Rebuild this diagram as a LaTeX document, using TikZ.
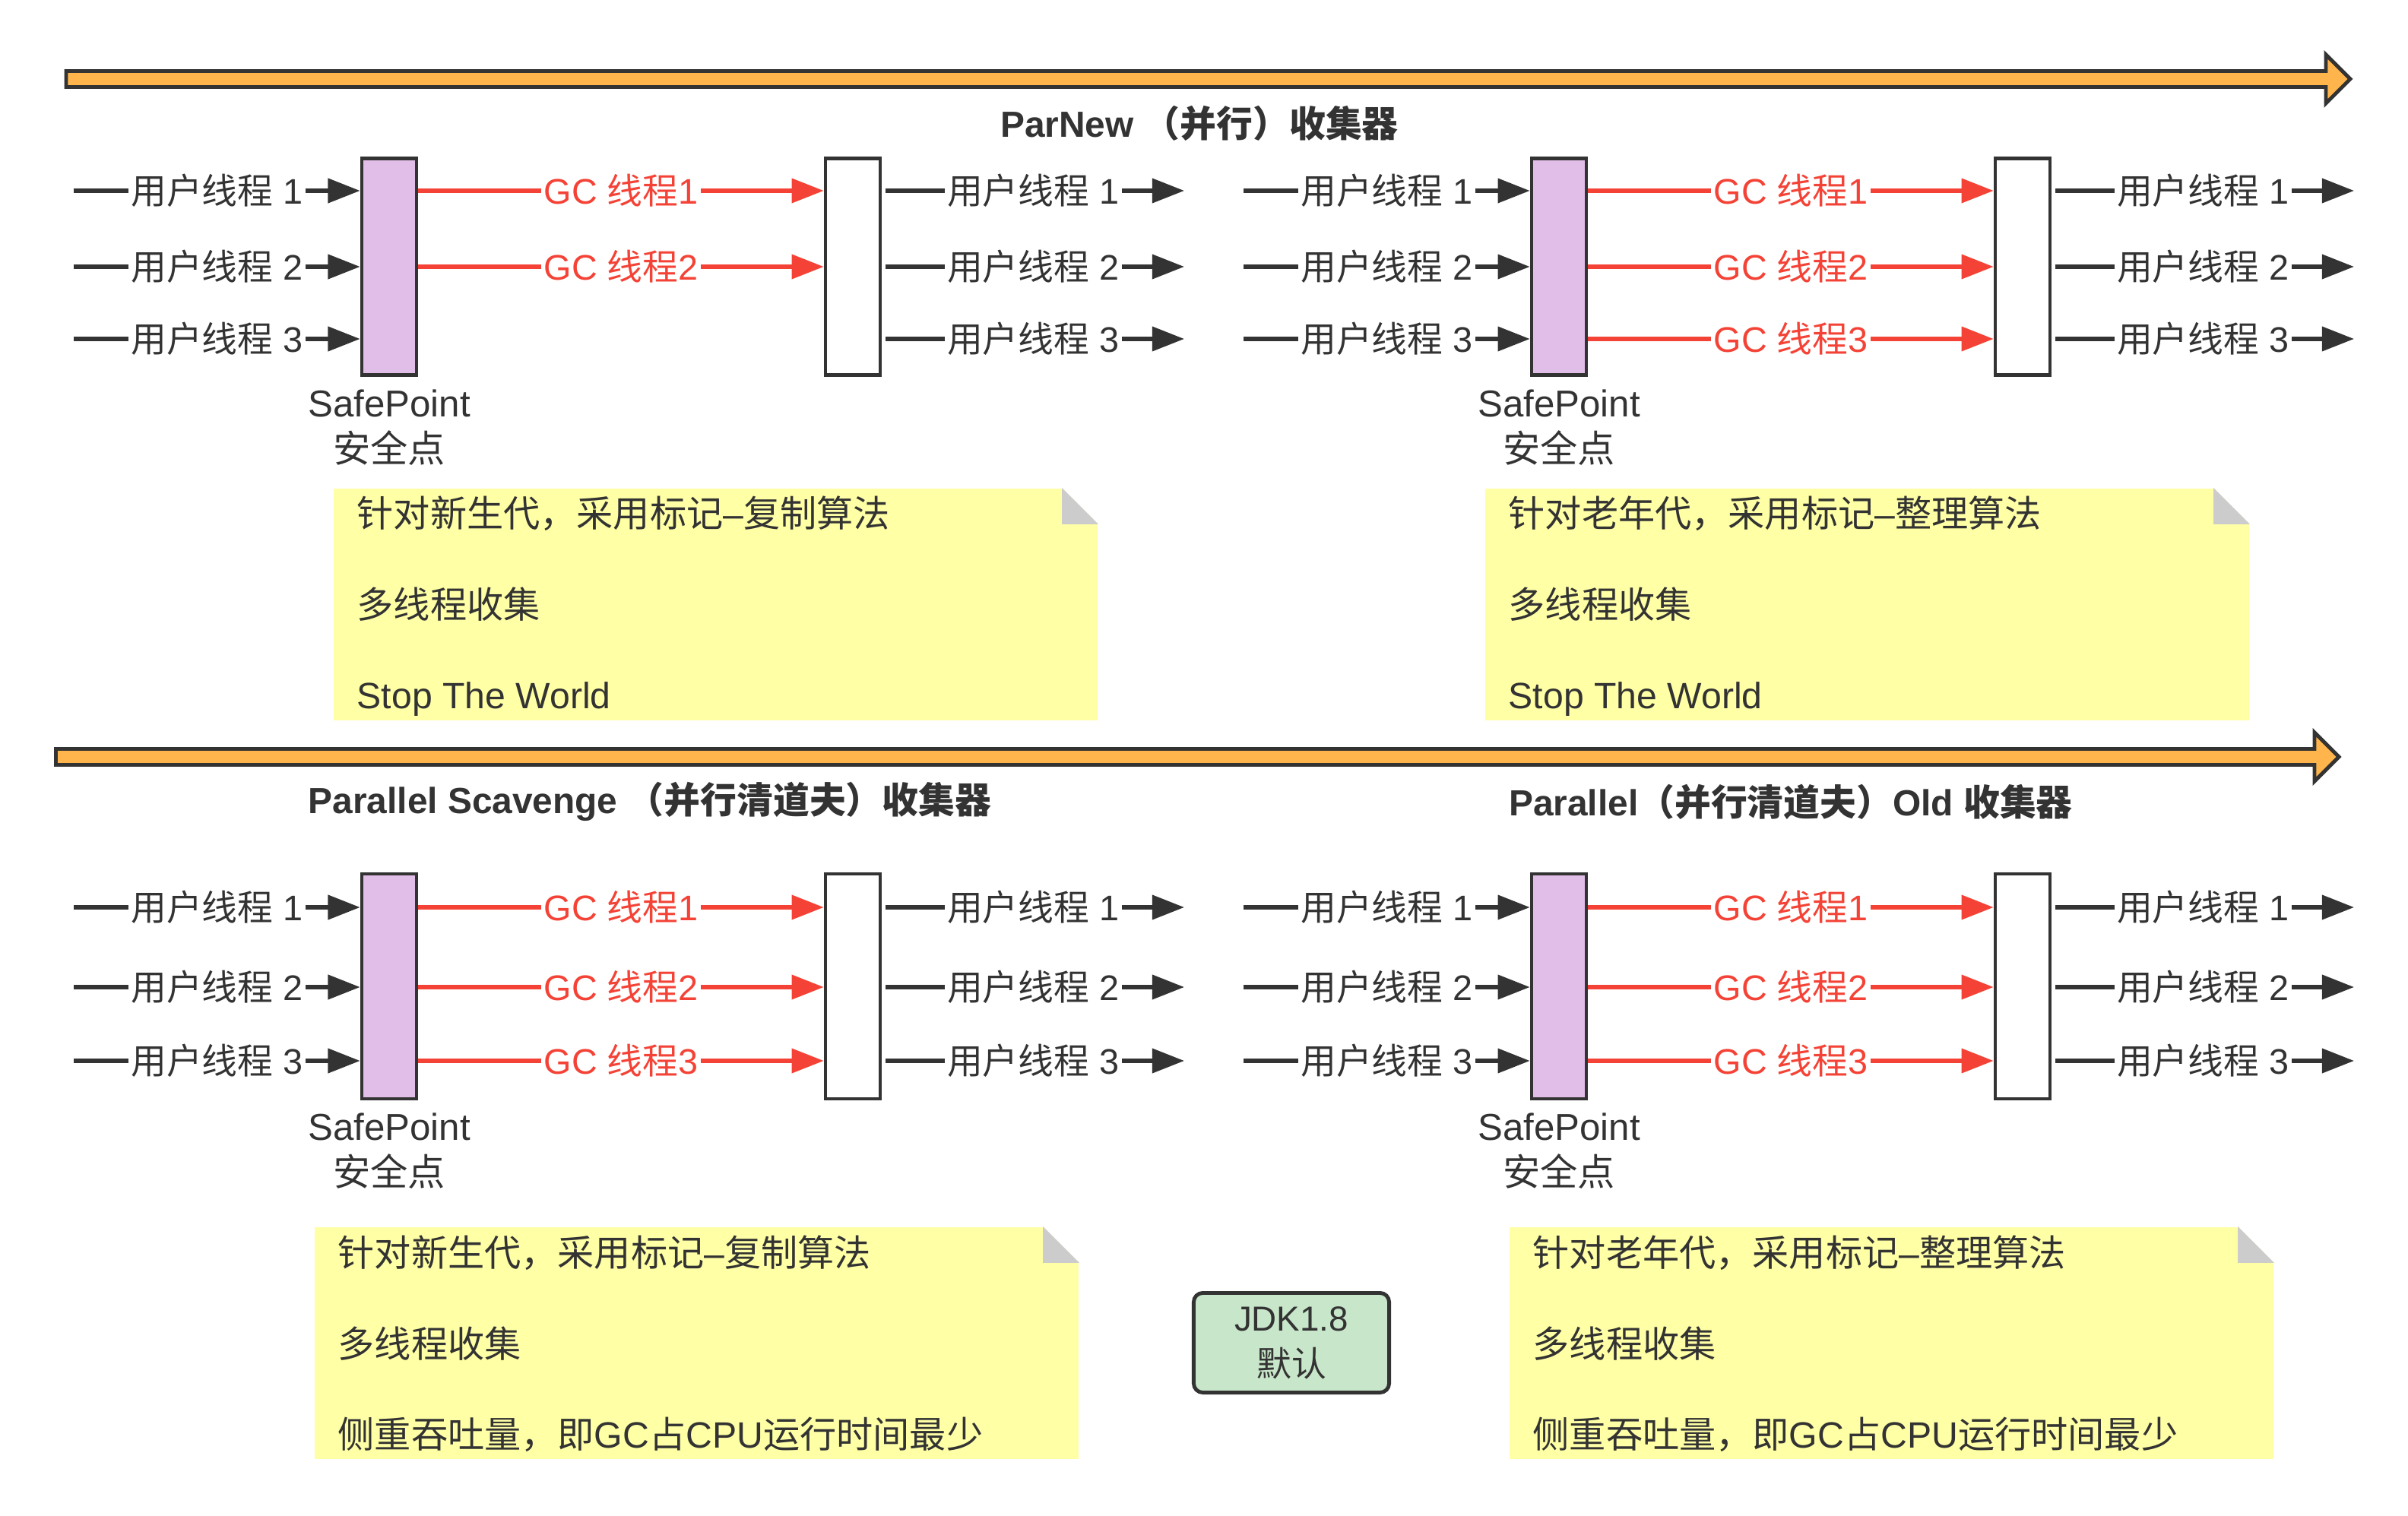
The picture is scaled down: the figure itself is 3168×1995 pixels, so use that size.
\documentclass[tikz,border=0pt]{standalone}
\usepackage{fontspec}
\setmainfont{Liberation Sans}
\newfontfamily\zhfont{Noto Sans CJK SC}
\newcommand\zh[1]{{\zhfont #1}}
\usepackage{xcolor}
\usetikzlibrary{arrows.meta,positioning,calc}

\definecolor{ink}{HTML}{333333}
\definecolor{gcred}{HTML}{F44336}
\definecolor{sppurple}{HTML}{E1BEE7}
\definecolor{barorange}{HTML}{FFB54C}
\definecolor{noteyellow}{HTML}{FFFFA6}
\definecolor{foldgray}{HTML}{CCCCCC}
\definecolor{jdkgreen}{HTML}{C8E6C9}

\begin{document}
\begin{tikzpicture}[x=0.01cm, y=-0.01cm, every node/.style={text=ink, font=\fontsize{13.3}{16}\selectfont}, safept/.style={draw=ink, line width=1.3pt, fill=sppurple, minimum width=0.72cm, inner sep=0pt}, memblk/.style={draw=ink, line width=1.3pt, fill=white, minimum width=0.72cm, inner sep=0pt}, uarr/.style={draw=ink, line width=1.5pt, -{Triangle[length=12pt,width=9pt]}}, gcarr/.style={draw=gcred, line width=1.5pt, -{Triangle[length=12pt,width=9pt]}}, ulbl/.style={fill=white, inner xsep=1pt, inner ysep=0pt}, gclbl/.style={ulbl, text=gcred}, splbl/.style={align=center, inner sep=0pt, font=\fontsize{14}{17}\selectfont}, timeline/.style={draw=ink, fill=barorange, line width=1.4pt, line join=miter}, title/.style={font=\bfseries\fontsize{13.6}{16}\selectfont}, note/.style={anchor=north west, fill=noteyellow, minimum width=10.05cm, minimum height=3.05cm, inner sep=0pt}, notetxt/.style={anchor=base west, inner sep=0pt, font=\fontsize{13.7}{16}\selectfont}, jdkbox/.style={draw=ink, line width=1.4pt, rounded corners=0.12cm, fill=jdkgreen, minimum width=2.57cm, minimum height=1.31cm, align=center, font=\fontsize{13}{17}\selectfont}]
\useasboundingbox (0,0) rectangle (3168,1995);

% time lines
\draw[timeline] (87,93.5) -- (3060,93.5) -- (3060,72) -- (3092,104) -- (3060,136) -- (3060,114.5) -- (87,114.5) -- cycle;
\draw[timeline] (73.5,985.5) -- (3045,985.5) -- (3045,964) -- (3077,996) -- (3045,1028) -- (3045,1006.5) -- (73.5,1006.5) -- cycle;

\node[title] (ttlParNew) at (1578,162) {ParNew \zh{（并行）收集器}};
\node[title] (ttlScav) at (855,1055) {Parallel Scavenge \zh{（并行清道夫）收集器}};
\node[title] (ttlOld) at (2356,1055) {Parallel\zh{（并行清道夫）}Old \zh{收集器}};

% four panels
\foreach \p/\dx/\cy/\h/\ya/\yb/\yc/\ngc in {A/0/351/2.85/251/351/446/2, B/1539/351/2.85/251/351/446/3, C/0/1298/2.96/1194/1299/1396/3, D/1539/1298/2.96/1194/1299/1396/3}{
  \node[safept, minimum height=\h cm] (sp\p) at (512+\dx,\cy) {};
  \node[memblk, minimum height=\h cm] (mb\p) at (1122+\dx,\cy) {};
  \node[splbl, below=0.16cm of sp\p] (spt\p) {SafePoint\\\zh{安全点}};
  \foreach \n/\y in {1/\ya,2/\yb,3/\yc}{
    \coordinate (in\p\n) at (97+\dx,\y);
    \coordinate (out\p\n) at (1558+\dx,\y);
    \draw[uarr] (in\p\n) -- node[ulbl]{\zh{用户线程} \n} (in\p\n -| sp\p.west);
    \draw[uarr, shorten <=0.05cm] (out\p\n -| mb\p.east) -- node[ulbl]{\zh{用户线程} \n} (out\p\n);
    \ifnum\n>\ngc\else
      \draw[gcarr] (in\p\n -| sp\p.east) -- node[gclbl]{GC \zh{线程}\n} (in\p\n -| mb\p.west);
    \fi
  }
}

% notes
\node[note] (noteA) at (438,642) {};
\node[note] (noteB) at (1953,642) {};
\node[note] (noteC) at (413,1614) {};
\node[note] (noteD) at (1985,1614) {};
\foreach \p in {A,B,C,D}{
  \fill[white] (note\p.north east) -- ++(-48,0) -- ++(48,48) -- cycle;
  \fill[foldgray] (note\p.north east) ++(-48,0) -- ++(0,48) -- ++(48,0) -- cycle;
}
\node[notetxt] (nA1) at ($(noteA.north west)+(31,52)$) {\zh{针对新生代，采用标记}–\zh{复制算法}};
\node[notetxt] (nA2) at ($(noteA.north west)+(31,172)$) {\zh{多线程收集}};
\node[notetxt] (nA3) at ($(noteA.north west)+(31,291)$) {Stop The World};
\node[notetxt] (nB1) at ($(noteB.north west)+(31,52)$) {\zh{针对老年代，采用标记}–\zh{整理算法}};
\node[notetxt] (nB2) at ($(noteB.north west)+(31,172)$) {\zh{多线程收集}};
\node[notetxt] (nB3) at ($(noteB.north west)+(31,291)$) {Stop The World};
\node[notetxt] (nC1) at ($(noteC.north west)+(31,52)$) {\zh{针对新生代，采用标记}–\zh{复制算法}};
\node[notetxt] (nC2) at ($(noteC.north west)+(31,172)$) {\zh{多线程收集}};
\node[notetxt] (nC3) at ($(noteC.north west)+(31,291)$) {\zh{侧重吞吐量，即}GC\zh{占}CPU\zh{运行时间最少}};
\node[notetxt] (nD1) at ($(noteD.north west)+(31,52)$) {\zh{针对老年代，采用标记}–\zh{整理算法}};
\node[notetxt] (nD2) at ($(noteD.north west)+(31,172)$) {\zh{多线程收集}};
\node[notetxt] (nD3) at ($(noteD.north west)+(31,291)$) {\zh{侧重吞吐量，即}GC\zh{占}CPU\zh{运行时间最少}};

\node[jdkbox] (jdk) at (1699,1767) {JDK1.8\\\zh{默认}};
\end{tikzpicture}
\end{document}
